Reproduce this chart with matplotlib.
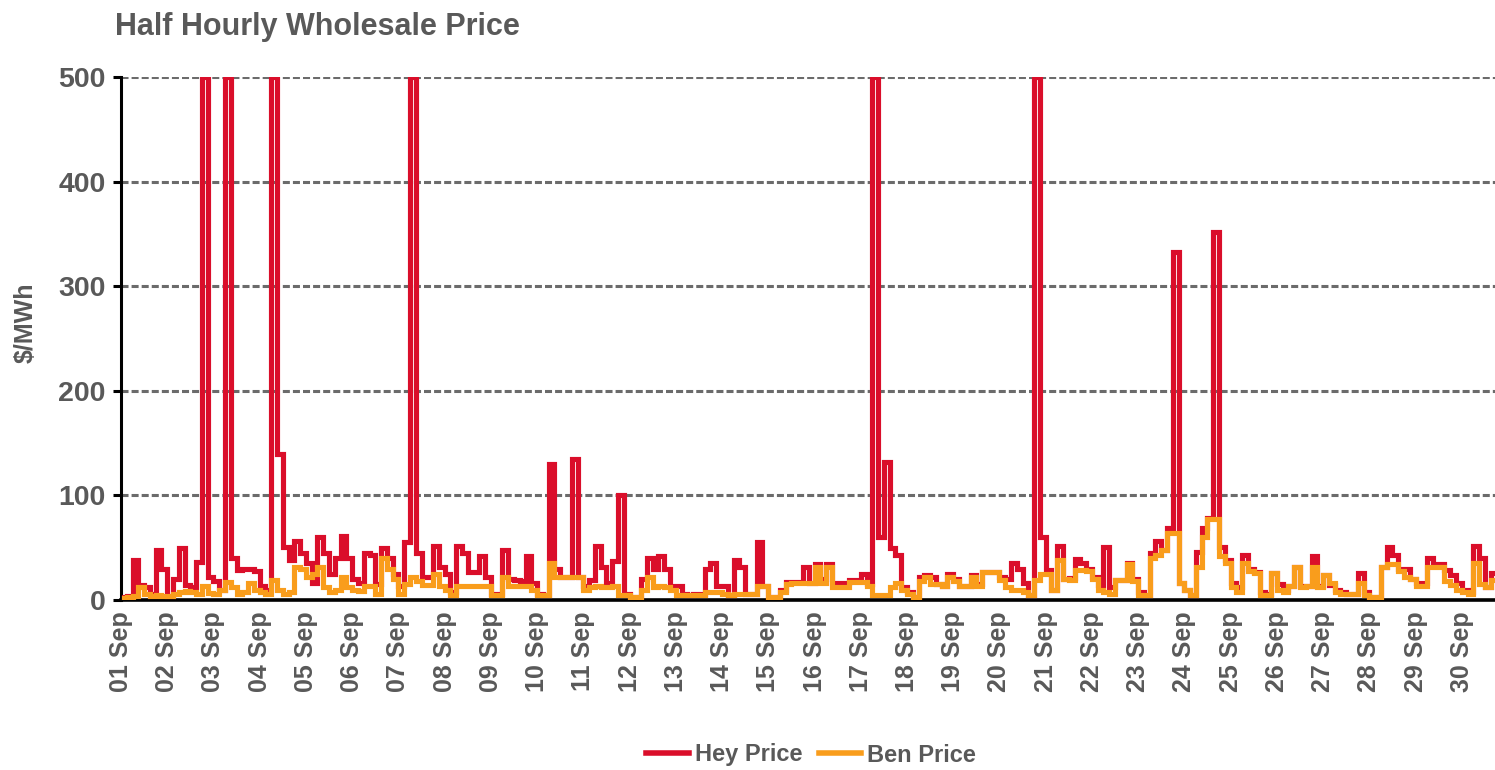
import matplotlib
matplotlib.use("Agg")
import matplotlib.pyplot as plt
import numpy as np

# ---- data: 3-hourly readings (8 per day) for 1-30 Sep ----
steps_per_day = 8
day_labels = [f"{d:02d} Sep" for d in range(1, 31)]

hey_price = [
    [3, 4, 38, 14, 12, 6, 48, 30],
    [4, 20, 50, 14, 12, 36, 500, 22],
    [18, 10, 500, 40, 29, 30, 30, 28],
    [13, 10, 500, 140, 51, 38, 56, 45],
    [35, 16, 60, 45, 25, 40, 61, 40],
    [20, 16, 45, 43, 15, 50, 40, 25],
    [13, 55, 500, 45, 22, 22, 52, 32],
    [25, 8, 52, 45, 27, 27, 42, 22],
    [6, 6, 48, 20, 19, 18, 42, 16],
    [6, 5, 130, 30, 22, 22, 135, 22],
    [13, 19, 52, 32, 16, 37, 100, 6],
    [3, 3, 20, 40, 30, 42, 30, 13],
    [13, 6, 5, 6, 6, 30, 35, 13],
    [13, 5, 38, 32, 6, 6, 55, 13],
    [3, 3, 10, 17, 17, 17, 32, 16],
    [34, 20, 34, 16, 16, 16, 19, 19],
    [25, 15, 500, 60, 132, 50, 43, 12],
    [8, 3, 22, 24, 22, 15, 13, 25],
    [20, 13, 13, 24, 15, 27, 27, 27],
    [22, 20, 35, 30, 16, 5, 500, 60],
    [29, 10, 52, 20, 21, 39, 35, 30],
    [22, 14, 51, 12, 19, 19, 35, 20],
    [8, 5, 45, 56, 48, 69, 333, 16],
    [10, 5, 46, 69, 78, 352, 51, 38],
    [16, 12, 43, 30, 27, 8, 6, 26],
    [15, 10, 13, 32, 13, 13, 42, 13],
    [24, 14, 10, 8, 6, 6, 26, 8],
    [3, 3, 32, 51, 43, 30, 30, 20],
    [16, 16, 40, 34, 34, 29, 24, 16],
    [10, 8, 52, 40, 12, 26, 26, 26],
]

ben_price = [
    [2, 3, 4, 12, 6, 4, 5, 4],
    [4, 6, 8, 9, 8, 6, 13, 7],
    [6, 10, 17, 12, 6, 8, 16, 10],
    [8, 6, 19, 10, 6, 8, 32, 30],
    [22, 25, 32, 12, 8, 10, 22, 12],
    [10, 9, 13, 13, 6, 40, 30, 20],
    [6, 15, 22, 18, 14, 14, 25, 13],
    [10, 5, 13, 13, 13, 13, 13, 13],
    [5, 5, 22, 13, 13, 13, 13, 10],
    [5, 5, 35, 22, 22, 22, 22, 22],
    [10, 12, 13, 12, 12, 13, 5, 5],
    [3, 3, 10, 22, 12, 13, 12, 10],
    [5, 5, 5, 5, 5, 8, 8, 8],
    [6, 5, 6, 6, 6, 6, 13, 13],
    [3, 3, 8, 15, 16, 16, 16, 16],
    [32, 16, 32, 12, 12, 12, 17, 17],
    [17, 13, 5, 5, 5, 12, 16, 10],
    [6, 3, 18, 22, 15, 15, 13, 22],
    [18, 13, 13, 22, 13, 27, 27, 27],
    [19, 12, 10, 10, 8, 5, 19, 25],
    [25, 10, 38, 20, 19, 29, 29, 28],
    [20, 10, 8, 6, 19, 19, 34, 18],
    [5, 5, 40, 43, 48, 64, 64, 16],
    [10, 5, 32, 60, 77, 77, 42, 35],
    [12, 8, 35, 28, 26, 5, 5, 26],
    [10, 8, 13, 32, 12, 13, 32, 12],
    [24, 16, 8, 6, 6, 6, 16, 5],
    [3, 3, 32, 34, 34, 28, 22, 20],
    [13, 13, 32, 32, 32, 18, 14, 10],
    [8, 6, 35, 15, 12, 19, 19, 19],
]

series_names = ["Hey Price", "Ben Price"]
series_colors = ["#DA0E2A", "#F99D1C"]
y_ticks = [0, 100, 200, 300, 400, 500]

# ---- plotting ----
hey = np.array(hey_price, dtype=float).ravel()
ben = np.array(ben_price, dtype=float).ravel()
t = (np.arange(hey.size) + 0.5) / steps_per_day  # days since 01 Sep 00:00

TXT = "#595959"
plt.rcParams["font.family"] = ["Liberation Sans", "DejaVu Sans"]
plt.rcParams["font.weight"] = "bold"

fig = plt.figure(figsize=(14.95, 7.70), dpi=100)
ax = fig.add_axes([121 / 1495, 1 - 600 / 770, (1495 - 121) / 1495, (600 - 77) / 770])

ax.plot(t, hey, color=series_colors[0], lw=3.7, drawstyle="steps-mid",
        label=series_names[0], solid_joinstyle="miter", zorder=3)
ax.plot(t, ben, color=series_colors[1], lw=3.7, drawstyle="steps-mid",
        label=series_names[1], solid_joinstyle="miter", zorder=4)

ax.set_xlim(0, (1495 - 122) / 46.2)
ax.set_ylim(0, 500)

ax.set_yticks(y_ticks)
ax.set_yticklabels([str(v) for v in y_ticks])
ax.set_xticks(np.arange(len(day_labels)))
ax.set_xticklabels(day_labels, rotation=90)

for v in y_ticks[1:]:
    ax.axhline(v, color="#6b6b6b", lw=2.2, ls=(0, (2.3, 1.0)), zorder=1)

for s in ["top", "right"]:
    ax.spines[s].set_visible(False)
ax.spines["left"].set_linewidth(2.2)
ax.spines["bottom"].set_linewidth(2.6)
ax.spines["left"].set_color("black")
ax.spines["bottom"].set_color("black")

ax.tick_params(axis="y", length=6, width=2.2, colors="black", labelcolor=TXT,
               labelsize=20.5, pad=5)
ax.tick_params(axis="x", length=0, labelcolor=TXT, labelsize=18, pad=8)

ax.set_ylabel("$/MWh", color=TXT, fontsize=18, fontweight="bold")
ax.yaxis.set_label_coords(-0.061, 0.53)

fig.text(115 / 1495, 1 - 27 / 770, "Half Hourly Wholesale Price", color=TXT,
         fontsize=22, fontweight="bold", ha="left", va="center")

leg = fig.legend(loc="center", bbox_to_anchor=(811 / 1495, 1 - 755 / 770),
                 ncol=2, frameon=False, fontsize=17, handlelength=1.8,
                 handletextpad=0.25, columnspacing=0.7)
for h in leg.get_lines():
    h.set_linewidth(4)
for txt in leg.get_texts():
    txt.set_color(TXT)

fig.savefig("out.png", dpi=100)
